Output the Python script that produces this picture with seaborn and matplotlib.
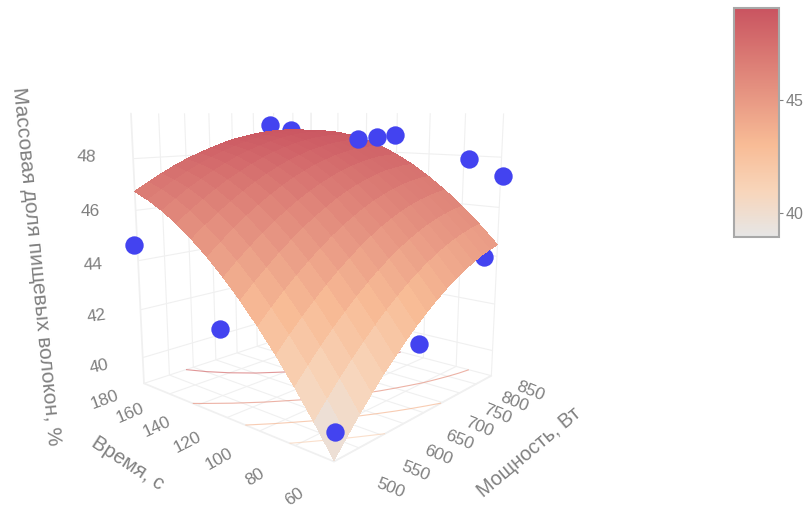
import numpy as np
import matplotlib
matplotlib.use("Agg")
import matplotlib.pyplot as plt
import seaborn as sns
from mpl_toolkits.mplot3d import proj3d

power = [450, 475, 500, 525, 550, 575, 600, 625, 650, 675, 700, 725, 750, 775, 800, 825, 850]
time_s = [60, 70, 80, 90, 100, 110, 120, 130, 140, 150, 160, 170, 180]
# rows = time, columns = power
fiber = [
    [38.94, 39.52, 40.07, 40.59, 41.08, 41.53, 41.96, 42.35, 42.71, 43.04, 43.34, 43.61, 43.85, 44.05, 44.23, 44.37, 44.48],
    [39.97, 40.53, 41.06, 41.56, 42.03, 42.47, 42.88, 43.25, 43.60, 43.91, 44.19, 44.44, 44.66, 44.85, 45.00, 45.13, 45.22],
    [40.93, 41.47, 41.99, 42.47, 42.92, 43.34, 43.73, 44.09, 44.41, 44.71, 44.97, 45.20, 45.41, 45.57, 45.71, 45.82, 45.90],
    [41.83, 42.36, 42.85, 43.32, 43.75, 44.15, 44.52, 44.86, 45.17, 45.45, 45.69, 45.91, 46.09, 46.24, 46.36, 46.45, 46.51],
    [42.65, 43.16, 43.64, 44.08, 44.49, 44.87, 45.23, 45.55, 45.84, 46.10, 46.33, 46.52, 46.69, 46.82, 46.93, 47.00, 47.04],
    [43.41, 43.90, 44.35, 44.78, 45.17, 45.54, 45.87, 46.17, 46.45, 46.69, 46.90, 47.08, 47.23, 47.35, 47.43, 47.49, 47.52],
    [44.09, 44.56, 44.99, 45.40, 45.77, 46.12, 46.43, 46.72, 46.97, 47.19, 47.39, 47.55, 47.68, 47.79, 47.86, 47.90, 47.91],
    [44.71, 45.15, 45.57, 45.96, 46.31, 46.64, 46.93, 47.20, 47.43, 47.64, 47.81, 47.96, 48.08, 48.16, 48.22, 48.25, 48.24],
    [45.25, 45.67, 46.06, 46.43, 46.76, 47.07, 47.34, 47.59, 47.81, 47.99, 48.16, 48.28, 48.39, 48.46, 48.50, 48.51, 48.50],
    [45.73, 46.13, 46.50, 46.84, 47.15, 47.43, 47.69, 47.92, 48.12, 48.29, 48.43, 48.54, 48.63, 48.69, 48.72, 48.72, 48.69],
    [46.14, 46.51, 46.86, 47.17, 47.46, 47.72, 47.96, 48.17, 48.35, 48.50, 48.63, 48.73, 48.80, 48.84, 48.86, 48.85, 48.81],
    [46.47, 46.81, 47.13, 47.42, 47.69, 47.93, 48.14, 48.33, 48.49, 48.63, 48.74, 48.82, 48.88, 48.91, 48.92, 48.90, 48.86],
    [46.74, 47.05, 47.34, 47.61, 47.85, 48.06, 48.25, 48.42, 48.57, 48.68, 48.78, 48.85, 48.90, 48.92, 48.92, 48.89, 48.84],
]
# measured samples: behind the surface, then in front of it
back_power = [741, 795, 850]
back_time = [180, 180, 67]
back_fiber = [49.16, 48.91, 43.89]
front_power = [850, 850, 850, 850, 850, 633, 452, 450, 450]
front_time = [146, 133, 121, 77, 59, 60, 60, 123, 183]
front_fiber = [48.53, 48.64, 48.75, 47.87, 47.26, 41.64, 39.88, 42.18, 44.59]

power_ticks = [500, 550, 600, 650, 700, 750, 800, 850]
time_ticks = [60, 80, 100, 120, 140, 160, 180]
fiber_ticks = [40, 42, 44, 46, 48]
cbar_ticks = [40, 45]
contour_levels = [41.2, 43.3, 45.4, 47.7]

sns.set_theme(style="white", rc={"grid.color": "#f0f0f0", "grid.linewidth": 0.8})
plt.rcParams["font.family"] = ["Liberation Sans", "DejaVu Sans"]
txt = "#808080"
blue = "#4343f0"

cmap = sns.blend_palette(["#e6e6e6", "#f8d5ba", "#f8bc96", "#e89984", "#d97772", "#c95460"], as_cmap=True)
norm = matplotlib.colors.Normalize(38.94, 49.07)

fig = plt.figure(figsize=(8.05, 5.07), dpi=100)
ax = fig.add_axes([-89.2 / 805, -4.5 / 507, 1, 1], projection="3d", computed_zorder=False)
ax.set_proj_type("persp", focal_length=0.2664)
ax.view_init(elev=10.93, azim=-138.5)
ax.set_box_aspect((1, 1, 1.0624), zoom=0.8625)

P, T = np.meshgrid(power, time_s)
Z = np.array(fiber)

ax.contour(P, T, Z, levels=contour_levels, zdir="z", offset=38.9, cmap=cmap, norm=norm,
           linewidths=0.8, alpha=0.7, zorder=1)
ax.scatter(back_power, back_time, back_fiber, s=175, c=blue, linewidths=0, depthshade=False, zorder=1.5)
ax.plot_surface(P, T, Z, cmap=cmap, norm=norm, rstride=1, cstride=1, shade=False,
                antialiased=False, linewidth=0, zorder=2)
ax.scatter(front_power, front_time, front_fiber, s=175, c=blue, linewidths=0, depthshade=False, zorder=3)

ax.set_xlim(450, 850)
ax.set_ylim(60, 180)
ax.set_zlim(38.9, 49.7)
ax.set_xticks(power_ticks)
ax.set_yticks(time_ticks)
ax.set_zticks(fiber_ticks)
ax.set_xticklabels([])
ax.set_yticklabels([])
ax.set_zticklabels([])
for a in (ax.xaxis, ax.yaxis, ax.zaxis):
    a.set_pane_color((1, 1, 1, 0))
    a.line.set_color("#f0f0f0")
    a.set_tick_params(color=(1, 1, 1, 0))


# 3D text ignores rotation, so project the spot and put a rotated 2D label there
def label3d(x, y, z, s, rot):
    x2, y2, _ = proj3d.proj_transform(x, y, z, ax.get_proj())
    ax.text2D(x2, y2, s, transform=ax.transData, rotation=rot, ha="center", va="center",
              color=txt, fontsize=12.5)


for p in power_ticks:
    label3d(p + 0.094 * (p - 638), 42, 38.45 - 0.3 * (850 - p) / 350, str(p), -22)
for t, rot in zip(time_ticks, [35, 32, 29, 27, 25, 23, 20]):
    label3d(378, t, 38.75 - 0.3 * (180 - t) / 120, str(t), rot)
for z, rot in zip(fiber_ticks, [12, 8, 3, 0, -3]):
    label3d(372, 180, z + 0.15, str(z), rot)

fig.text(0.158, 0.0868, "Время, с", rotation=-33, ha="center", va="center", color=txt, fontsize=14.6)
fig.text(529 / 805, 1 - 452 / 507, "Мощность, Вт", rotation=40, ha="center", va="center", color=txt, fontsize=14.3)
fig.text(0.045, 0.475, "Массовая доля пищевых волокон, %", rotation=-84.4, ha="center", va="center",
         color=txt, fontsize=15.1)

cax = fig.add_axes([734 / 805, 1 - 237 / 507, 45 / 805, 229 / 507])
cb = fig.colorbar(matplotlib.cm.ScalarMappable(norm=norm, cmap=cmap), cax=cax, ticks=cbar_ticks)
cb.outline.set_edgecolor("#a8a8a8")
cb.outline.set_linewidth(1.5)
cax.tick_params(colors=txt, labelsize=11.5, length=3, width=0.8, pad=2, right=True)

fig.savefig("out.png", dpi=100)
